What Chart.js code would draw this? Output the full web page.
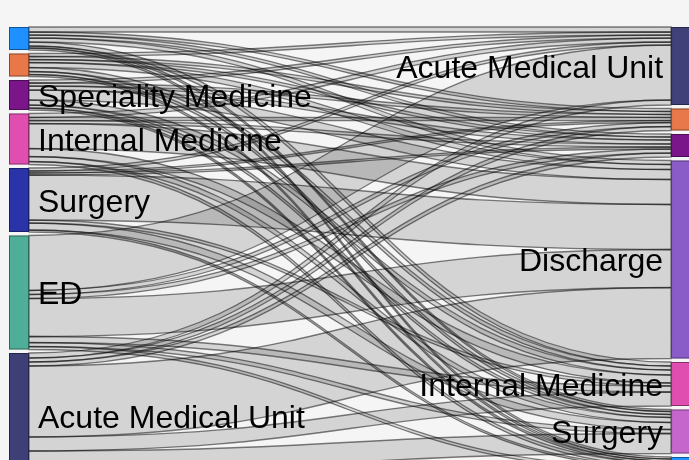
<!DOCTYPE html>
<html>
<head>
<meta charset="utf-8">
<script src="https://cdn.jsdelivr.net/npm/chart.js@4.4.1/dist/chart.umd.min.js"></script>
<style>
  html, body { margin: 0; padding: 0; background: #f5f5f5; }
  #wrap { width: 689px; height: 460px; }
</style>
</head>
<body>
<div id="wrap"><canvas id="myChart" width="689" height="460"></canvas></div>
<script>
// left column = where the patients came from, right column = where they went
const sourceNames = ['', '', 'Speciality Medicine', 'Internal Medicine', 'Surgery', 'ED', 'Acute Medical Unit'];
const targetNames = ['Acute Medical Unit', '', '', 'Discharge', 'Internal Medicine', 'Surgery', ''];

// flows (source index, target index, patients)
const linkSource = [0, 0, 0, 0, 0, 0, 0,
                    1, 1, 1, 1, 1, 1, 1,
                    2, 2, 2, 2, 2, 2, 2,
                    3, 3, 3, 3, 3, 3, 3,
                    4, 4, 4, 4, 4, 4, 4,
                    5, 5, 5, 5, 5, 5, 5,
                    6, 6, 6, 6, 6, 6, 6];
const linkTarget = [0, 1, 2, 3, 4, 5, 6,
                    0, 1, 2, 3, 4, 5, 6,
                    0, 1, 2, 3, 4, 5, 6,
                    0, 1, 2, 3, 4, 5, 6,
                    0, 1, 2, 3, 4, 5, 6,
                    0, 1, 2, 3, 4, 5, 6,
                    0, 1, 2, 3, 4, 5, 6];
const linkValue = [5, 3, 3, 4, 4, 2, 2,
                   3, 3, 3, 5, 4, 3, 2,
                   3, 3, 4, 10, 5, 3, 2,
                   4, 3, 3, 25, 8, 5, 3,
                   3, 2, 2, 45, 3, 7, 2,
                   55, 4, 4, 38, 6, 4, 3,
                   5, 4, 4, 71, 14, 20, 8];

// node colours
const sourceColors = ['#1e90ff', '#e8784a', '#7a168a', '#e04fb0', '#2a33a8', '#4fae97', '#3f3f78'];
const targetColors = ['#3f4178', '#e8784a', '#7a168a', '#8a5cc8', '#e04fb0', '#c466cc', '#1e90ff'];

const nodePad = 3.5;      // gap between nodes, in flow units
const nodeWidth = 20;     // px
const visibleFlow = 433;  // part of the flow axis that fits in the picture (bottom is cut off)
const labelFont = '32px "Liberation Sans", Arial, sans-serif';

function columnTotals(idx, n) {
  const t = new Array(n).fill(0);
  idx.forEach((k, i) => { t[k] += linkValue[i]; });
  return t;
}
const sourceTotals = columnTotals(linkSource, sourceNames.length);
const targetTotals = columnTotals(linkTarget, targetNames.length);

function stackNodes(totals) {
  let y = 0;
  return totals.map(v => { const n = { y0: y, y1: y + v }; y += v + nodePad; return n; });
}

const sankeyPlugin = {
  id: 'sankey',
  afterDraw(chart) {
    const ctx = chart.ctx;
    const xs = chart.scales.x, ys = chart.scales.y;
    const left = stackNodes(sourceTotals);
    const right = stackNodes(targetTotals);

    // offsets of every link at its source and target (d3-sankey ordering)
    const sy = [], ty = [];
    const ids = linkValue.map((v, i) => i);
    left.forEach((node, s) => {
      let y = node.y0;
      ids.filter(i => linkSource[i] === s)
        .sort((a, b) => linkTarget[a] - linkTarget[b] || a - b)
        .forEach(i => { sy[i] = y; y += linkValue[i]; });
    });
    right.forEach((node, t) => {
      let y = node.y0;
      ids.filter(i => linkTarget[i] === t)
        .sort((a, b) => linkSource[a] - linkSource[b] || a - b)
        .forEach(i => { ty[i] = y; y += linkValue[i]; });
    });

    const lx0 = xs.getPixelForValue(0), lx1 = lx0 + nodeWidth;
    const rx1 = xs.getPixelForValue(1), rx0 = rx1 - nodeWidth;
    const xm = (lx1 + rx0) / 2;

    ctx.save();
    // links
    ids.forEach(i => {
      const a0 = ys.getPixelForValue(sy[i]), a1 = ys.getPixelForValue(sy[i] + linkValue[i]);
      const b0 = ys.getPixelForValue(ty[i]), b1 = ys.getPixelForValue(ty[i] + linkValue[i]);
      ctx.beginPath();
      ctx.moveTo(lx1, a0);
      ctx.bezierCurveTo(xm, a0, xm, b0, rx0, b0);
      ctx.lineTo(rx0, b1);
      ctx.bezierCurveTo(xm, b1, xm, a1, lx1, a1);
      ctx.closePath();
      ctx.fillStyle = 'rgba(0,0,0,0.135)';
      ctx.fill();
      ctx.strokeStyle = 'rgba(0,0,0,0.5)';
      ctx.lineWidth = 1.3;
      ctx.stroke();
    });

    // nodes
    function drawNodes(nodes, colors, x0) {
      nodes.forEach((n, k) => {
        const p0 = ys.getPixelForValue(n.y0), p1 = ys.getPixelForValue(n.y1);
        ctx.fillStyle = colors[k];
        ctx.fillRect(x0, p0, nodeWidth, p1 - p0);
        ctx.strokeStyle = 'rgba(0,0,0,0.4)';
        ctx.lineWidth = 1;
        ctx.strokeRect(x0 + 0.5, p0 + 0.5, nodeWidth - 1, p1 - p0 - 1);
      });
    }
    drawNodes(left, sourceColors, lx0);
    drawNodes(right, targetColors, rx0);

    // labels
    ctx.font = labelFont;
    ctx.fillStyle = '#000';
    ctx.textBaseline = 'alphabetic';
    ctx.textAlign = 'left';
    left.forEach((n, k) => {
      const c = (ys.getPixelForValue(n.y0) + ys.getPixelForValue(n.y1)) / 2;
      ctx.fillText(sourceNames[k], lx1 + 9, c + 11.5);
    });
    ctx.textAlign = 'right';
    right.forEach((n, k) => {
      const c = (ys.getPixelForValue(n.y0) + ys.getPixelForValue(n.y1)) / 2;
      ctx.fillText(targetNames[k], rx0 - 8, c + 11.5);
    });
    ctx.restore();
  }
};

const ctx = document.getElementById('myChart').getContext('2d');
const myChart = new Chart(ctx, {
  type: 'scatter',
  data: { datasets: [{ data: [] }] },
  options: {
    responsive: false,
    animation: false,
    layout: { padding: { left: 9, right: 0, top: 27, bottom: 0 } },
    scales: {
      x: { type: 'linear', min: 0, max: 0.997, display: false },
      y: { type: 'linear', min: 0, max: visibleFlow, reverse: true, display: false }
    },
    plugins: { legend: { display: false }, tooltip: { enabled: false } }
  },
  plugins: [sankeyPlugin]
});
</script>
</body>
</html>
